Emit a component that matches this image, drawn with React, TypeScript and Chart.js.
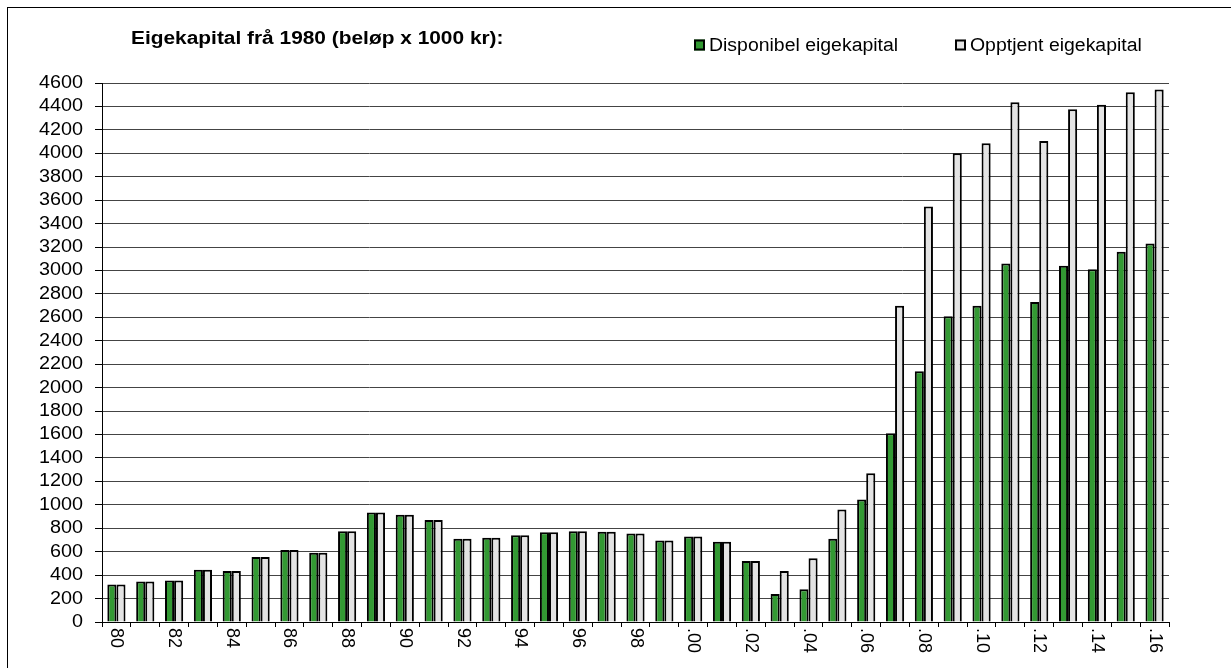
import React, { useEffect, useRef } from 'react';
import { Chart, registerables } from 'chart.js';

Chart.register(...registerables);

const FONT = "'Liberation Sans', Arial, sans-serif";
const STRETCH = 1.1;

const chartTitle = 'Eigekapital frå 1980 (beløp x 1000 kr):';

const years = [
  '1980', '1981', '1982', '1983', '1984', '1985', '1986', '1987', '1988', '1989',
  '1990', '1991', '1992', '1993', '1994', '1995', '1996', '1997', '1998', '1999',
  '2000', '2001', '2002', '2003', '2004', '2005', '2006', '2007', '2008', '2009',
  '2010', '2011', '2012', '2013', '2014', '2015', '2016',
];

const tickLabels = [
  '80', '', '82', '', '84', '', '86', '', '88', '',
  '90', '', '92', '', '94', '', '96', '', '98', '',
  '.00', '', '.02', '', '.04', '', '.06', '', '.08', '',
  '.10', '', '.12', '', '.14', '', '.16',
];

const disponibel = [
  320, 345, 355, 445, 435, 555, 615, 590, 775, 935,
  915, 870, 710, 720, 740, 765, 775, 770, 755, 695,
  730, 685, 520, 240, 280, 710, 1045, 1610, 2140, 2610,
  2700, 3060, 2730, 3040, 3010, 3160, 3230,
];

const opptjent = [
  320, 345, 355, 445, 435, 555, 615, 590, 775, 935,
  915, 870, 710, 720, 740, 765, 775, 770, 755, 695,
  730, 685, 520, 435, 545, 960, 1270, 2700, 3545, 4000,
  4085, 4435, 4105, 4375, 4415, 4520, 4545,
];

const seriesNames = ['Disponibel eigekapital', 'Opptjent eigekapital'];
const seriesColors = ['#339933', '#e3e3e3'];

const Y_MIN = 0;
const Y_MAX = 4600;
const Y_STEP = 200;

const overlayPlugin = {
  id: 'overlay',
  afterDraw(chart: any) {
    const ctx = chart.ctx as CanvasRenderingContext2D;
    const xs = chart.scales.x;
    const ys = chart.scales.y;
    ctx.save();
    ctx.fillStyle = '#000';

    // rotated x tick labels (clockwise, reading top to bottom)
    ctx.font = `18px ${FONT}`;
    ctx.textAlign = 'left';
    ctx.textBaseline = 'middle';
    tickLabels.forEach((t, i) => {
      if (!t) return;
      const px = xs.getPixelForValue(i);
      ctx.save();
      ctx.translate(px, xs.top + 6);
      ctx.rotate(Math.PI / 2);
      ctx.fillText(t, 0, 0);
      ctx.restore();
    });

    // y tick labels
    ctx.textAlign = 'right';
    ctx.textBaseline = 'middle';
    ys.ticks.forEach((tk: any) => {
      const py = ys.getPixelForValue(tk.value);
      ctx.save();
      ctx.translate(ys.right - 19, py);
      ctx.scale(STRETCH, 1);
      ctx.fillText(String(tk.value), 0, 0);
      ctx.restore();
    });

    // title
    ctx.textAlign = 'left';
    ctx.textBaseline = 'alphabetic';
    ctx.font = `bold 18px ${FONT}`;
    ctx.save();
    ctx.translate(123, 36);
    ctx.scale(1.16, 1);
    ctx.fillText(chartTitle, 0, 0);
    ctx.restore();

    // legend
    const itemX = [686, 947];
    ctx.font = `18px ${FONT}`;
    chart.data.datasets.forEach((ds: any, i: number) => {
      const bx = itemX[i];
      ctx.fillStyle = ds.backgroundColor;
      ctx.fillRect(bx, 31.5, 11, 11);
      ctx.lineWidth = 2;
      ctx.strokeStyle = '#000';
      ctx.strokeRect(bx + 1, 32.5, 9, 9);
      ctx.fillStyle = '#000';
      ctx.save();
      ctx.translate(bx + 15, 42.5);
      ctx.scale(1.08, 1);
      ctx.fillText(ds.label, 0, 0);
      ctx.restore();
    });
    ctx.restore();
  },
};

export default function App() {
  const ref = useRef<HTMLCanvasElement | null>(null);

  useEffect(() => {
    if (!ref.current) return;
    const chart = new Chart(ref.current, {
      type: 'bar',
      data: {
        labels: years,
        datasets: [
          {
            label: seriesNames[0],
            data: disponibel,
            backgroundColor: seriesColors[0],
            borderColor: '#000',
            borderWidth: 2,
            categoryPercentage: 0.63,
            barPercentage: 1.0,
          },
          {
            label: seriesNames[1],
            data: opptjent,
            backgroundColor: seriesColors[1],
            borderColor: '#000',
            borderWidth: 2,
            categoryPercentage: 0.63,
            barPercentage: 1.0,
          },
        ],
      },
      options: {
        responsive: false,
        animation: false,
        events: [],
        layout: { padding: { top: 75, right: 62, bottom: 6, left: 0 } },
        plugins: {
          legend: { display: false },
          title: { display: false },
          tooltip: { enabled: false },
        },
        scales: {
          x: {
            grid: {
              display: true,
              offset: true,
              drawOnChartArea: false,
              drawTicks: true,
              tickLength: 5,
              color: '#000',
              tickColor: '#000',
            },
            border: { display: true, color: '#000', width: 1 },
            ticks: { display: false },
            afterFit(scale: any) {
              scale.height = 40;
            },
          },
          y: {
            min: Y_MIN,
            max: Y_MAX,
            ticks: {
              stepSize: Y_STEP,
              display: false,
            },
            grid: {
              color: '#444',
              tickColor: '#000',
              tickLength: 7,
              lineWidth: 1,
            },
            border: { display: true, color: '#000', width: 1 },
            afterFit(scale: any) {
              scale.width = 94;
            },
          },
        },
      },
      plugins: [overlayPlugin],
    });
    return () => chart.destroy();
  }, []);

  return (
    <div
      style={{
        position: 'fixed',
        left: 7,
        top: 7,
        width: 1300,
        height: 700,
        border: '1px solid #000',
        background: '#fff',
      }}
    >
      <canvas ref={ref} width={1223} height={660} style={{ display: 'block' }} />
    </div>
  );
}
